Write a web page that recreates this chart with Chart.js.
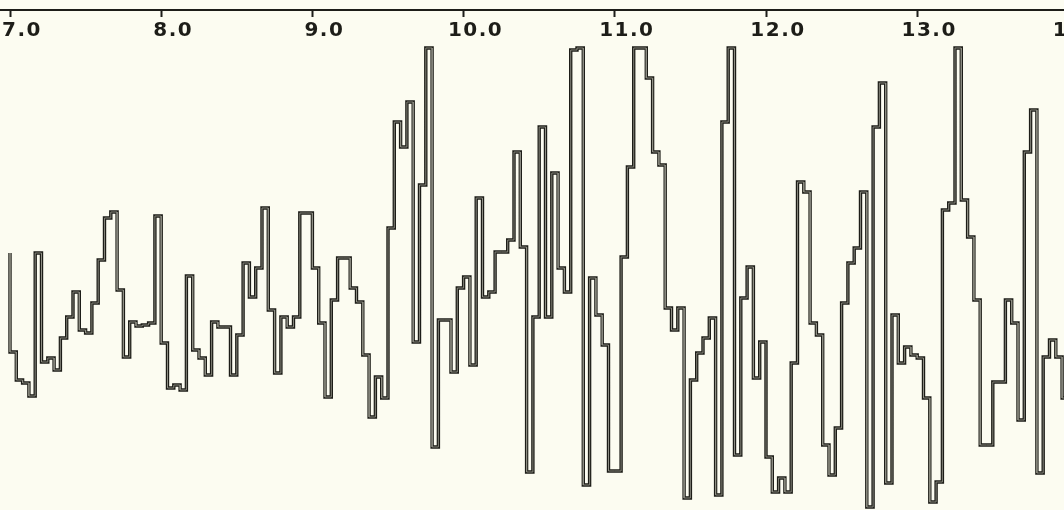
<!DOCTYPE html>
<html>
<head>
<meta charset="utf-8">
<script src="https://cdn.jsdelivr.net/npm/chart.js@4.4.1/dist/chart.umd.min.js"></script>
<style>
  html, body { margin: 0; padding: 0; background: #fcfcf1; overflow: hidden; }
  #wrap { position: relative; width: 1064px; height: 510px; overflow: hidden; background: #fcfcf1; }
  #wrap canvas { position: absolute; left: 0; top: 0; }
</style>
</head>
<body>
<div id="wrap"><canvas id="spectrum" width="1120" height="510"></canvas></div>
<script>
// Histogram bins: 24 bins per axis unit, starting at 7.0
const binStart = 7.0;
const binWidth = 1 / 24;
const leadLevel = 51.4;

// Counts per bin (7.0 .. 14.0)
const counts = [
  31.6, 26.0, 25.4, 22.8, 51.4, 29.6, 30.4, 28.0, 34.4, 38.6, 43.6, 36.0,
  35.4, 41.4, 50.0, 58.4, 59.6, 44.0, 30.6, 37.6, 36.8, 37.0, 37.4, 58.8,
  33.4, 24.4, 25.0, 24.0, 46.8, 32.0, 30.4, 27.0, 37.6, 36.6, 36.6, 27.0,
  35.0, 49.4, 42.6, 48.4, 60.4, 40.0, 27.4, 38.6, 36.6, 38.6, 59.4, 59.4,
  48.4, 37.4, 22.6, 42.0, 50.4, 50.4, 44.4, 41.6, 31.0, 18.6, 26.6, 22.4,
  56.4, 77.6, 72.6, 81.6, 33.6, 65.0, 92.4, 12.6, 38.0, 38.0, 27.6, 44.4,
  46.6, 29.0, 62.4, 42.6, 43.6, 51.6, 51.6, 54.0, 71.6, 52.6, 7.6, 38.6,
  76.6, 38.6, 67.4, 48.4, 43.6, 92.0, 92.4, 5.0, 46.4, 39.0, 33.0, 7.8,
  7.8, 50.6, 68.6, 92.4, 92.4, 86.4, 71.6, 69.0, 40.4, 36.0, 40.4, 2.4,
  26.0, 31.4, 34.4, 38.4, 3.0, 77.6, 92.4, 11.0, 42.4, 48.6, 26.4, 33.6,
  10.6, 3.6, 6.4, 3.6, 29.4, 65.6, 63.6, 37.4, 35.0, 13.0, 7.0, 16.4,
  41.4, 49.4, 52.4, 63.6, 0.6, 76.6, 85.4, 5.4, 39.0, 29.4, 32.6, 31.0,
  30.4, 22.4, 1.6, 5.6, 60.0, 61.4, 92.4, 62.0, 54.6, 42.0, 13.0, 13.0,
  25.6, 25.6, 42.0, 37.4, 18.0, 71.6, 80.0, 7.4, 30.6, 34.0, 30.6, 22.4
];

const tickValues = [7, 8, 9, 10, 11, 12, 13, 14];

// Build the stepped outline: each bin contributes its left and right corner
const outline = [{ x: binStart, y: leadLevel }];
counts.forEach((v, i) => {
  const left = binStart + i * binWidth;
  outline.push({ x: left, y: v }, { x: left + binWidth, y: v });
});

const inkColor = '#1d1d18';

const spacedText = {
  id: 'spacedText',
  beforeDraw(chart) { chart.ctx.letterSpacing = '1.5px'; },
  afterDraw(chart) { chart.ctx.letterSpacing = '0px'; }
};

const pxPerUnit = 151.2;
const firstTickPx = 10;
const canvasWidth = 1120;

new Chart(document.getElementById('spectrum'), {
  type: 'line',
  data: {
    datasets: [
      {
        data: outline,
        borderColor: '#8f8f84',
        borderWidth: 0.9,
        pointRadius: 0,
        fill: false,
        order: 1
      },
      {
        data: outline,
        borderColor: inkColor,
        borderWidth: 3.4,
        pointRadius: 0,
        fill: false,
        order: 2
      }
    ]
  },
  options: {
    responsive: false,
    devicePixelRatio: 1,
    animation: false,
    events: [],
    layout: { padding: 0 },
    plugins: { legend: { display: false }, tooltip: { enabled: false } },
    elements: { line: { tension: 0, borderJoinStyle: 'miter', borderCapStyle: 'butt' } },
    scales: {
      x: {
        type: 'linear',
        position: 'top',
        min: binStart - firstTickPx / pxPerUnit,
        max: binStart + (canvasWidth - firstTickPx) / pxPerUnit,
        afterBuildTicks(scale) {
          scale.ticks = tickValues.map(v => ({ value: v }));
        },
        afterFit(scale) {
          scale.height = 10;
          scale.paddingLeft = 0;
          scale.paddingRight = 0;
        },
        border: { display: true, color: inkColor, width: 2 },
        grid: {
          drawOnChartArea: false,
          drawTicks: true,
          tickLength: -7,
          tickColor: inkColor,
          tickWidth: 2
        },
        ticks: {
          includeBounds: false,
          autoSkip: false,
          maxRotation: 0,
          mirror: true,
          align: 'center',
          labelOffset: 12,
          padding: 9,
          color: inkColor,
          font: { family: 'DejaVu Sans', weight: 'bold', size: 20 },
          callback: v => Number(v).toFixed(1)
        }
      },
      y: {
        display: false,
        min: 0,
        max: 100
      }
    }
  },
  plugins: [spacedText]
});
</script>
</body>
</html>
